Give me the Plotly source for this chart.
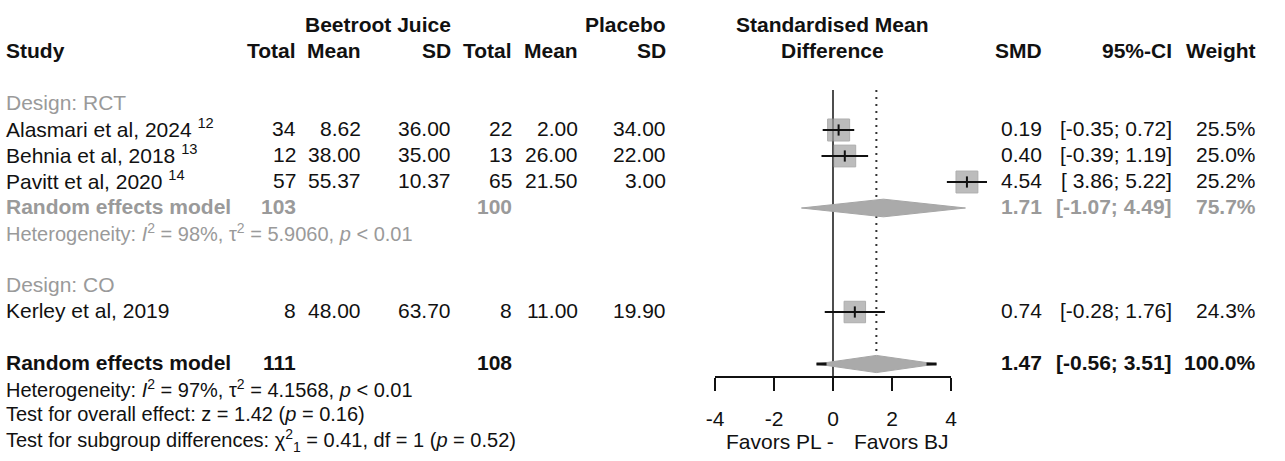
import plotly.graph_objects as go
import math

# ---------------- data ----------------
studies = ["Alasmari et al, 2024", "Behnia et al, 2018", "Pavitt et al, 2020", "Kerley et al, 2019"]
refs = ["12", "13", "14", ""]
design = ["RCT", "RCT", "RCT", "CO"]
bj_total = [34, 12, 57, 8]
bj_mean = [8.62, 38.00, 55.37, 48.00]
bj_sd = [36.00, 35.00, 10.37, 63.70]
pl_total = [22, 13, 65, 8]
pl_mean = [2.00, 26.00, 21.50, 11.00]
pl_sd = [34.00, 22.00, 3.00, 19.90]
smd = [0.19, 0.40, 4.54, 0.74]
ci_lo = [-0.35, -0.39, 3.86, -0.28]
ci_hi = [0.72, 1.19, 5.22, 1.76]
weight = [25.5, 25.0, 25.2, 24.3]

groups = ["RCT", "CO"]
sub_total_bj = {"RCT": 103}
sub_total_pl = {"RCT": 100}
sub_smd = {"RCT": 1.71}
sub_lo = {"RCT": -1.07}
sub_hi = {"RCT": 4.49}
sub_weight = {"RCT": 75.7}
sub_het = {"RCT": ("98%", "5.9060", "< 0.01")}

overall_total_bj = 111
overall_total_pl = 108
overall_smd = 1.47
overall_lo = -0.56
overall_hi = 3.51
overall_weight = 100.0
overall_het = ("97%", "4.1568", "< 0.01")
overall_z = "1.42"
overall_p = "0.16"
subgroup_chi2 = "0.41"
subgroup_df = "1"
subgroup_p = "0.52"

tick_vals = [-4, -2, 0, 2, 4]
label_left = "Favors PL -"
label_right = "Favors BJ"

# ---------------- layout constants ----------------
W, H = 1285, 461
ROW0_PX, ROW_PX = 104, 26
X0_PX, X_UNIT = 833, 29.5
BLACK = "#111111"
GREY = "#9a9a9a"
FONT = "Liberation Sans, Arial, sans-serif"
FS = 21
FS_SMALL = 20

col_right = {"bj_total": 297, "bj_mean": 362, "bj_sd": 452,
             "pl_total": 513, "pl_mean": 579, "pl_sd": 667,
             "smd": 1043, "ci": 1173, "w": 1257}
STUDY_X = 5
TEXT_DY = -0.06

def px(x):
    return x / W

annotations = []

def txt(text, xpx, row, anchor="right", color=BLACK, size=FS, bold=False):
    if bold:
        text = "<b>" + text + "</b>"
    annotations.append(dict(text=text, x=px(xpx), y=row + TEXT_DY, xref="paper", yref="y",
                            xanchor=anchor, yanchor="middle", showarrow=False,
                            borderpad=0,
                            font=dict(family=FONT, size=size, color=color)))

def fmt_ci(lo, hi):
    los = f"{lo:.2f}" if lo < 0 else " " + f"{lo:.2f}"
    return f"[{los}; {hi:.2f}]"

# headers
txt("Beetroot Juice", col_right["bj_sd"], -3, bold=True)
txt("Placebo", col_right["pl_sd"], -3, bold=True)
txt("Standardised Mean", X0_PX - 1, -3, anchor="center", bold=True)
txt("Difference", X0_PX - 1, -2, anchor="center", bold=True)
txt("Study", STUDY_X, -2, anchor="left", bold=True)
for key, lab in [("bj_total", "Total"), ("bj_mean", "Mean"), ("bj_sd", "SD"),
                 ("pl_total", "Total"), ("pl_mean", "Mean"), ("pl_sd", "SD"),
                 ("smd", "SMD"), ("ci", "95%-CI"), ("w", "Weight")]:
    txt(lab, col_right[key], -2, bold=True)

# rows
study_rows = []
sub_rows = {}
row = 0
for g in groups:
    txt(f"Design: {g}", STUDY_X, row, anchor="left", color=GREY)
    row += 1
    idx = [i for i, d in enumerate(design) if d == g]
    for i in idx:
        name = studies[i] + (f" <sup>{refs[i]}</sup>" if refs[i] else "")
        txt(name, STUDY_X, row, anchor="left")
        txt(str(bj_total[i]), col_right["bj_total"], row)
        txt(f"{bj_mean[i]:.2f}", col_right["bj_mean"], row)
        txt(f"{bj_sd[i]:.2f}", col_right["bj_sd"], row)
        txt(str(pl_total[i]), col_right["pl_total"], row)
        txt(f"{pl_mean[i]:.2f}", col_right["pl_mean"], row)
        txt(f"{pl_sd[i]:.2f}", col_right["pl_sd"], row)
        txt(f"{smd[i]:.2f}", col_right["smd"], row)
        txt(fmt_ci(ci_lo[i], ci_hi[i]), col_right["ci"], row)
        txt(f"{weight[i]:.1f}%", col_right["w"], row)
        study_rows.append((i, row))
        row += 1
    if g in sub_smd:
        sub_rows[g] = row
        txt("Random effects model", STUDY_X, row, anchor="left", color=GREY, bold=True)
        txt(str(sub_total_bj[g]), col_right["bj_total"], row, color=GREY, bold=True)
        txt(str(sub_total_pl[g]), col_right["pl_total"], row, color=GREY, bold=True)
        txt(f"{sub_smd[g]:.2f}", col_right["smd"], row, color=GREY, bold=True)
        txt(fmt_ci(sub_lo[g], sub_hi[g]), col_right["ci"], row, color=GREY, bold=True)
        txt(f"{sub_weight[g]:.1f}%", col_right["w"], row, color=GREY, bold=True)
        row += 1
        i2, t2, p = sub_het[g]
        txt(f"Heterogeneity: <i>I</i><sup>2</sup> = {i2}, τ<sup>2</sup> = {t2}, <i>p</i> {p}",
            STUDY_X, row, anchor="left", color=GREY, size=FS_SMALL)
        row += 1
    row += 1

overall_row = row
txt("Random effects model", STUDY_X, row, anchor="left", bold=True)
txt(str(overall_total_bj), col_right["bj_total"], row, bold=True)
txt(str(overall_total_pl), col_right["pl_total"], row, bold=True)
txt(f"{overall_smd:.2f}", col_right["smd"], row, bold=True)
txt(fmt_ci(overall_lo, overall_hi), col_right["ci"], row, bold=True)
txt(f"{overall_weight:.1f}%", col_right["w"], row, bold=True)
i2, t2, p = overall_het
txt(f"Heterogeneity: <i>I</i><sup>2</sup> = {i2}, τ<sup>2</sup> = {t2}, <i>p</i> {p}",
    STUDY_X, row + 1, anchor="left", size=FS_SMALL)
txt(f"Test for overall effect: z = {overall_z} (<i>p</i> = {overall_p})",
    STUDY_X, row + 2, anchor="left", size=FS_SMALL)
txt(f"Test for subgroup differences: χ<sup>2</sup><sub>{subgroup_df}</sub> = {subgroup_chi2}, df = {subgroup_df} (<i>p</i> = {subgroup_p})",
    STUDY_X, row + 3, anchor="left", size=FS_SMALL)

axis_row = overall_row + 0.5
top_row = -0.54
txt(label_left, 835, row + 3.05, anchor="right")
txt(label_right, 853, row + 3.05, anchor="left")

# ---------------- traces ----------------
fig = go.Figure()

# reference (null) line
fig.add_trace(go.Scatter(x=[0, 0], y=[top_row, axis_row], mode="lines",
                         line=dict(color="#4d4d4d", width=2), hoverinfo="skip"))
# overall effect dotted line
fig.add_trace(go.Scatter(x=[overall_smd, overall_smd], y=[top_row, overall_row], mode="lines",
                         line=dict(color="#333333", width=2, dash="2px,5px"), hoverinfo="skip"))
# axis line
fig.add_trace(go.Scatter(x=[min(tick_vals), max(tick_vals)], y=[axis_row, axis_row], mode="lines",
                         line=dict(color=BLACK, width=2), hoverinfo="skip"))

# squares
wmax = max(weight)
fig.add_trace(go.Scatter(
    x=[smd[i] for i, r in study_rows], y=[r for i, r in study_rows], mode="markers",
    marker=dict(symbol="square", size=[22 * math.sqrt(weight[i] / wmax) for i, r in study_rows],
                color="#a0a0a0", line=dict(color="#8c8c8c", width=1)),
    hoverinfo="skip"))
# CI lines
cx, cy = [], []
for i, r in study_rows:
    cx += [ci_lo[i], ci_hi[i], None]
    cy += [r, r, None]
fig.add_trace(go.Scatter(x=cx, y=cy, mode="lines", line=dict(color=BLACK, width=2), hoverinfo="skip"))
# point ticks
fig.add_trace(go.Scatter(
    x=[smd[i] for i, r in study_rows], y=[r for i, r in study_rows], mode="markers",
    marker=dict(symbol="line-ns", size=8, line=dict(color=BLACK, width=2)), hoverinfo="skip"))

# diamonds
def diamond(lo, est, hi, r, h=0.34):
    fig.add_trace(go.Scatter(x=[lo, est, hi, est, lo], y=[r, r - h, r, r + h, r],
                             mode="lines", fill="toself", fillcolor="#aaaaaa",
                             line=dict(color="#a6a6a6", width=1), hoverinfo="skip"))

for g, r in sub_rows.items():
    diamond(sub_lo[g], sub_smd[g], sub_hi[g], r)
diamond(overall_lo, overall_smd, overall_hi, overall_row, h=0.33)
# end marks of overall diamond
tip = 0.34
fig.add_trace(go.Scatter(x=[overall_lo, overall_lo + tip, None, overall_hi - tip, overall_hi],
                         y=[overall_row] * 2 + [None] + [overall_row] * 2, mode="lines",
                         line=dict(color=BLACK, width=3), hoverinfo="skip"))

x_range = [-X0_PX / X_UNIT, (W - X0_PX) / X_UNIT]
y_range = [(H - ROW0_PX) / ROW_PX, -ROW0_PX / ROW_PX]
axis_pos = 1 - (ROW0_PX + axis_row * ROW_PX) / H

fig.update_layout(
    width=W, height=H, margin=dict(l=0, r=0, t=0, b=0),
    paper_bgcolor="white", plot_bgcolor="white", showlegend=False,
    annotations=annotations,
    xaxis=dict(range=x_range, domain=[0, 1], anchor="free", position=axis_pos,
               showgrid=False, zeroline=False, showline=False, automargin=False,
               tickmode="array", tickvals=tick_vals, ticktext=[str(v) for v in tick_vals],
               ticks="outside", ticklen=13, tickwidth=2, tickcolor=BLACK,
               ticklabelstandoff=10,
               tickfont=dict(family=FONT, size=FS, color=BLACK), fixedrange=True),
    yaxis=dict(range=y_range, domain=[0, 1], visible=False, fixedrange=True),
)

fig.write_html("out.html", config={"displayModeBar": False},
               post_script="document.body.style.margin='0';document.body.style.overflow='hidden';")
